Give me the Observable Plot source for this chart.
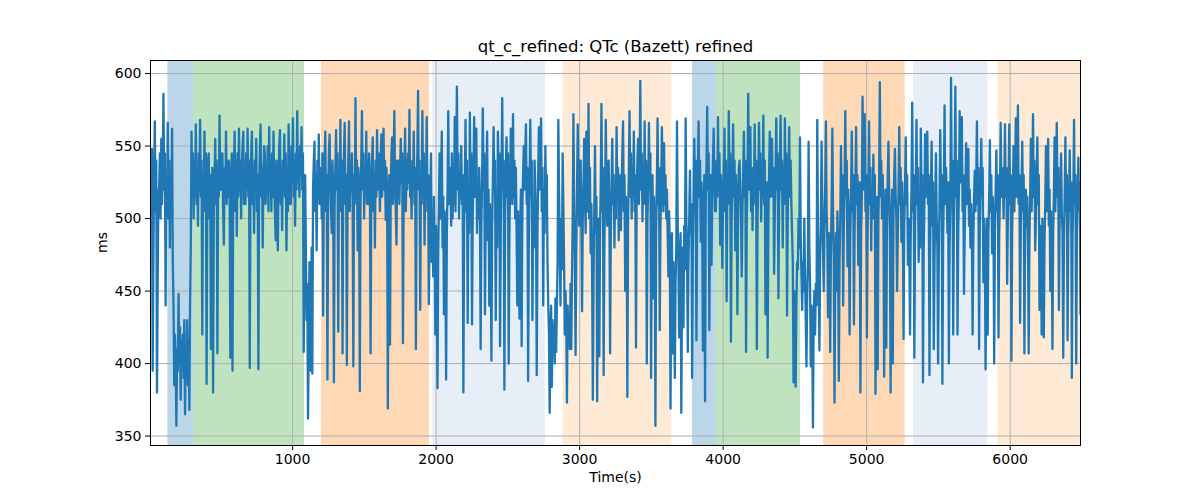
<!DOCTYPE html>
<html><head><meta charset="utf-8">
<script src="https://cdn.jsdelivr.net/npm/d3@7"></script>
<script src="https://cdn.jsdelivr.net/npm/@observablehq/plot@0.6"></script>
<style>body{margin:0;background:#fff;} #chart svg{font-family:"DejaVu Sans",sans-serif;}</style>
</head><body><div id="chart"></div>
<script>
const title = "qt_c_refined: QTc (Bazett) refined";
const xLabel = "Time(s)";
const yLabel = "ms";
const xTicks = [1000, 2000, 3000, 4000, 5000, 6000];
const yTicks = [350, 400, 450, 500, 550, 600];
const tStart = 10, tEnd = 6490;

// QTc samples (ms), evenly spaced in time from tStart to tEnd, in consecutive stretches
const qtc1 = [540,520,548,395,470,530,567,505,540,380,455,520,520,545,500,555,510,535,586,520,545,440,525,505,566,500,540,480,530,510,562,470,440,385,420,400,357,410,395,448,400,425,375,415,405,420,390,430,365,410,395,430,385,415,368,440,480,560,520,545,500,540,515,565,510,535,495,545,520,568,515,540,420,530,510,560,505,545,386,520,540,545,500,530,410,515,535,380,505,525,555,510,540,407,530,515,571,520,545,520,545,505,482,535,515,560,510,540];
const qtc2 = [515,540,525,404,520,545,395,515,535,560,505,540,488,545,515,562,520,540,500,535,550,560,510,530,510,545,520,562,515,540,397,525,545,560,510,535,490,540,520,555,505,530,396,520,545,565,515,535,480,530,550,545,510,525,520,550,505,563,520,540,505,545,515,560,525,505,485,540,520,478,530,550,561,510,535,492,540,520,558,515,545,478,525,505,565,530,510,510,550,525,569,515,540,495,545,520,574,525,540,515,550,530,563,520,545,408,470,530];
const qtc3 = [480,430,455,362,410,470,440,395,480,393,520,540,553,505,530,478,540,515,558,510,535,530,500,545,433,520,540,560,505,530,389,515,545,558,525,505,490,540,520,387,510,535,561,520,545,422,530,510,568,505,540,407,525,545,566,510,530,399,520,540,567,505,535,520,545,515,398,530,510,583,515,540,478,535,520,381,510,540,574,520,545,500,535,515,560,510,540,510,545,525,407,520,540,556,505,530,480,540,515,561,520,545,530,505,540,558,515,535];
const qtc4 = [562,520,540,499,535,515,369,505,530,413,520,545,556,510,535,574,525,505,482,540,520,540,510,535,555,525,545,414,515,530,562,505,540,520,545,525,575,515,530,500,540,520,560,510,535,410,525,545,588,520,540,437,530,510,574,515,545,482,535,520,570,505,530,441,490,520,545,470,505,460,515,480,420,495,460,383,475,510,545,500,530,560,480,515,434,505,470,389,490,520,574,510,535,530,495,545,500,525,510,570,505,540,591,520,545,500,530,515];
const qtc5 = [550,510,530,380,490,525,568,505,540,428,515,490,573,520,545,427,500,530,570,515,540,562,490,525,500,535,510,410,495,525,576,520,545,434,505,530,560,485,520,440,510,475,402,495,525,563,520,540,430,505,480,560,525,545,412,495,530,583,520,540,382,500,530,556,515,545,400,490,525,562,530,510,572,515,540,500,535,490,440,505,475,431,490,520,412,505,530,550,520,545,565,510,535,388,485,525,568,515,540,430,505,480,540,520,500,392,490,530];
const qtc6 = [563,520,545,569,505,535,440,520,490,550,510,530,469,440,420,366,420,440,384,430,410,425,400,445,408,440,470,568,520,480,440,500,465,545,510,470,420,450,430,373,440,415,430,410,455,410,460,500,572,510,470,406,480,520,565,530,495,513,540,500,436,500,525,555,515,490,560,525,505,579,500,535,476,510,460,375,460,505,550,490,515,374,470,500,405,490,525,579,505,535,392,480,515,568,520,495,531,540,505,407,490,520,555,510,530,480,520,500];
const qtc7 = [563,515,535,485,530,510,492,520,545,567,505,530,450,515,495,377,500,530,574,515,545,500,535,515,560,505,530,411,520,540,555,510,535,595,520,545,498,530,510,567,515,540,400,500,525,566,520,545,390,500,530,445,515,495,357,490,525,569,510,535,423,495,520,563,525,505,552,510,530,500,520,490,460,505,480,369,460,490,407,470,445,390,455,480,567,495,470,418,465,490,366,455,480,425,495,465,569,500,475,408,470,500,533,490,510,390,480,505];
const qtc8 = [555,520,540,416,505,530,567,515,540,484,525,505,409,500,530,374,510,535,577,520,545,423,505,530,468,515,540,562,525,505,505,540,515,570,520,545,482,530,510,466,515,535,562,505,540,443,520,510,574,530,545,415,500,525,565,515,540,478,530,505,434,510,535,540,520,500,460,505,530,560,515,540,408,500,525,586,520,545,563,505,535,492,525,515,565,510,540,410,500,530,566,520,545,498,535,515,571,510,540,434,505,525,404,495,530,560,515,540];
const qtc9 = [555,515,535,462,505,530,569,520,545,445,510,530,571,520,540,480,535,510,569,520,545,433,505,530,563,515,540,510,490,470,387,450,430,384,440,470,465,500,480,556,490,460,437,470,450,500,460,430,398,445,470,553,480,455,398,440,420,356,430,450,420,455,440,568,490,460,409,470,500,553,510,480,450,495,520,567,505,485,432,490,470,408,480,510,562,500,470,373,460,490,450,505,480,388,470,500,550,510,530,440,495,520,574,515,540,467,520,500];
const qtc10 = [420,490,515,560,505,530,427,495,520,563,510,530,468,500,525,380,490,515,584,520,540,572,505,530,418,490,520,567,510,535,478,520,500,544,505,530,379,480,515,396,500,525,594,515,540,500,530,505,391,490,520,411,500,530,553,515,490,380,495,520,400,505,530,548,515,500,450,490,520,563,510,535,484,525,500,417,495,520,556,510,530,468,500,480,420,490,520,580,505,530,404,495,520,568,510,535,470,500,480,562,515,530,387,480,510,558,515,535];
const qtc11 = [560,510,530,392,480,515,553,495,525,410,470,505,545,500,480,400,475,510,561,515,530,386,485,520,578,510,535,515,490,525,400,480,510,597,520,540,420,500,530,591,515,540,420,490,520,574,525,540,570,505,530,448,490,520,552,510,535,548,495,520,480,510,490,420,485,515,533,505,525,567,510,535,410,495,520,555,515,535,456,500,480,396,470,500,420,490,515,554,505,530,476,515,495,400,490,520,547,505,530,418,490,515,566,515,535,530,500,525];
const qtc12 = [565,515,535,455,500,525,565,510,530,402,490,520,550,505,530,569,515,540,578,510,530,428,495,520,553,505,530,407,490,520,495,515,480,407,485,515,555,505,530,572,515,540,478,500,525,556,510,530,437,495,480,420,500,470,418,485,510,550,505,525,555,495,520,450,505,480,410,490,515,556,505,530,566,515,535,437,500,520,545,505,490,404,485,515,556,505,530,416,490,515,547,505,525,390,490,515,568,510,530,400,490,515,542,505,525,434];

// Shaded phases
const spanStart = [131, 312, 1201, 1977, 2885, 3786, 3953, 4701, 5326, 5914];
const spanEnd   = [312, 1083, 1954, 2762, 3642, 3953, 4539, 5268, 5844, 6490];
const spanPhase = ["A", "B", "C", "D", "E", "A", "B", "C", "D", "E"];

const qtc = [].concat(qtc1, qtc2, qtc3, qtc4, qtc5, qtc6, qtc7, qtc8, qtc9, qtc10, qtc11, qtc12);
const dt = (tEnd - tStart) / (qtc.length - 1);
const series = qtc.map((v, i) => ({t: tStart + i * dt, v}));
const spans = spanStart.map((s, i) => ({s, e: spanEnd[i], phase: spanPhase[i]}));

const chart = Plot.plot({
  width: 1200,
  height: 500,
  marginLeft: 150,
  marginRight: 120,
  marginTop: 60,
  marginBottom: 55,
  style: {fontFamily: "DejaVu Sans, sans-serif", fontSize: "14px", background: "white", color: "black"},
  x: {domain: [tStart, tEnd]},
  y: {domain: [343.5, 609]},
  color: {domain: ["A", "B", "C", "D", "E"], range: ["#1f77b4", "#2ca02c", "#ff7f0e", "#aec7e8", "#ffbb78"]},
  marks: [
    Plot.rect(spans, {x1: "s", x2: "e", fill: "phase", fillOpacity: 0.3}),
    Plot.gridX(xTicks, {stroke: "#b0b0b0", strokeOpacity: 1, strokeWidth: 1}),
    Plot.gridY(yTicks, {stroke: "#b0b0b0", strokeOpacity: 1, strokeWidth: 1}),
    Plot.lineY(series, {x: "t", y: "v", stroke: "#1f77b4", strokeWidth: 2.3, strokeLinejoin: "round", clip: true}),
    Plot.axisX(xTicks, {tickSize: 5, tickPadding: 4, label: null, fontSize: 14, tickFormat: "d"}),
    Plot.axisY(yTicks, {tickSize: 5, tickPadding: 4, label: null, fontSize: 14, tickFormat: "d"}),
    Plot.frame({stroke: "black", strokeWidth: 1}),
    Plot.text([title], {frameAnchor: "top", lineAnchor: "middle", dy: -14, fontSize: 16.5, fill: "black"}),
    Plot.text([xLabel], {frameAnchor: "bottom", dy: 36, fontSize: 14, fill: "black"}),
    Plot.text([yLabel], {frameAnchor: "left", dx: -48, rotate: -90, fontSize: 14, fill: "black"})
  ]
});
document.getElementById("chart").appendChild(chart);
</script>
</body></html>
